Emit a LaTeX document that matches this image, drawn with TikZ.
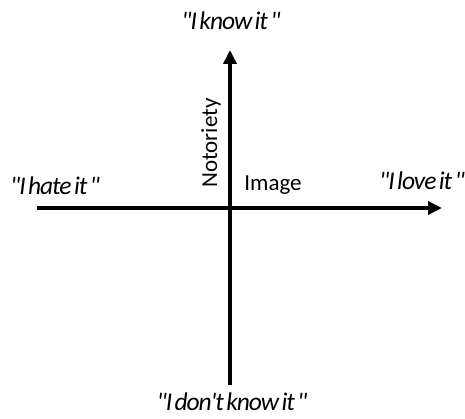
\documentclass[tikz,border=0pt]{standalone}
\usepackage{fontspec}
\setmainfont{Carlito}
\newfontfamily\quotefont{Carlito}[ItalicFont={Carlito Italic},LetterSpace=-4,WordSpace=0.5]
\usetikzlibrary{arrows.meta}
\newcommand{\dq}{\symbol{34}}
\newcommand{\sq}{\symbol{39}}
\begin{document}
\begin{tikzpicture}[x=1pt,y=1pt,
  axis/.style={line width=3.8pt,-{Triangle[length=14pt,width=13pt]}},
  lbl/.style={font=\fontsize{25.5}{27}\quotefont\itshape,inner sep=0pt},
  axl/.style={font=\fontsize{23}{25}\selectfont,inner sep=0pt}]
\useasboundingbox (0,0) rectangle (465,419);
\coordinate (L) at (37,211);
\coordinate (R) at (442,211);
\coordinate (B) at (230,34);
\coordinate (T) at (230,369);
\draw[axis] (L) -- (R);
\draw[axis] (B) -- (T);
\node[lbl] (know) at (231,398) {\dq I know it \dq};
\node[lbl] (hate) at (55,233) {\dq I hate it \dq};
\node[lbl] (love) at (422,238) {\dq I love it \dq};
\node[lbl] (dont) at (232,17) {\dq I don\sq t know it \dq};
\node[axl,rotate=90] (noto) at (211,276) {Notoriety};
\node[axl] (img) at (273,234) {Image};
\end{tikzpicture}
\end{document}
